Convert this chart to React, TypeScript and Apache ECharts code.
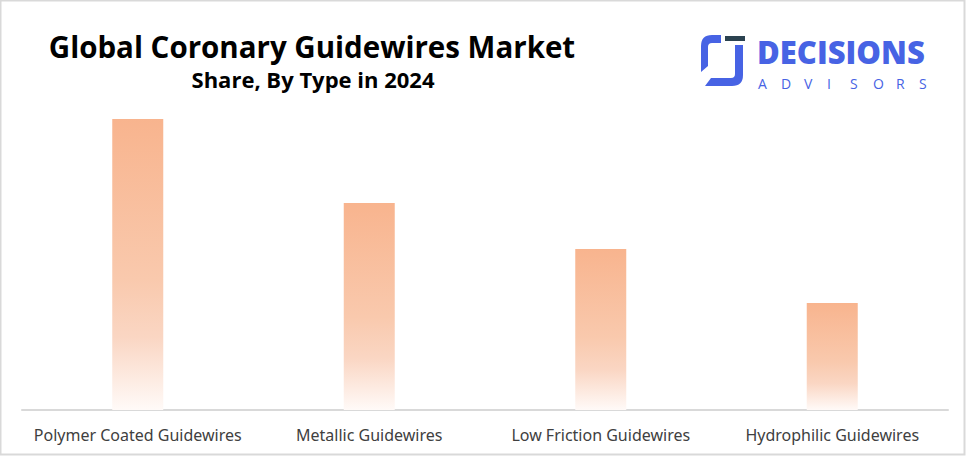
import React, { useEffect, useRef } from "react";
import * as echarts from "echarts";

const categories = [
  "Polymer Coated Guidewires",
  "Metallic Guidewires",
  "Low Friction Guidewires",
  "Hydrophilic Guidewires",
];
const shareValues = [29.1, 20.7, 16.1, 10.7];
const titleText = "Global Coronary Guidewires Market";
const subtitleText = "Share, By Type in 2024";
const brandTop = "DECISIONS";
const brandBottom = "ADVISORS";

echarts.graphic.registerShape(
  "logoLeft",
  echarts.graphic.extendPath(
    "M721 35 L712 35 Q701 35 701 46 L701 72 L708 66 L708 47 Q708 43 712 43 L721 43 Z",
    {}
  )
);
echarts.graphic.registerShape(
  "logoRight",
  echarts.graphic.extendPath(
    "M735 45 L743 45 L743 75 Q743 86 732 86 L705 86 L711 78 L731 78 Q735 78 735 74 Z",
    {}
  )
);

export default function App() {
  const ref = useRef<HTMLDivElement>(null);
  useEffect(() => {
    if (!ref.current) return;
    const chart = echarts.init(ref.current, null, { renderer: "svg" });
    const blue = "#4763E4";
    const advisorLetters = brandBottom.split("").map((ch, i) => ({
      type: "text",
      x: 758 + i * 23,
      y: 83,
      style: {
        text: ch,
        fontFamily: "Open Sans",
        fontSize: 14,
        fill: blue,
        align: "left",
        verticalAlign: "middle",
      },
    }));
    chart.setOption({
      animation: false,
      backgroundColor: "#ffffff",
      grid: { left: 22, right: 18, top: 100, bottom: 46 },
      xAxis: {
        type: "category",
        data: categories,
        axisLine: { lineStyle: { color: "#d9d9d9", width: 2 } },
        axisTick: { show: false },
        axisLabel: {
          interval: 0,
          hideOverlap: false,
          color: "#404040",
          fontFamily: "Noto Sans",
          fontSize: 16,
          margin: 17,
        },
      },
      yAxis: {
        type: "value",
        min: 0,
        max: 31,
        show: false,
        splitLine: { show: false },
      },
      series: [
        {
          type: "bar",
          data: shareValues,
          barWidth: 51,
          itemStyle: {
            color: new echarts.graphic.LinearGradient(0, 0, 0, 1, [
              { offset: 0, color: "#F8B48E" },
              { offset: 0.55, color: "#F9C9AD" },
              { offset: 0.75, color: "#FAD6C3" },
              { offset: 1, color: "#FFFAF8" },
            ]),
          },
        },
      ],
      graphic: [
        {
          type: "rect",
          shape: { x: 0.5, y: 0.5, width: 964, height: 454 },
          style: { fill: "none", stroke: "#d9d9d9", lineWidth: 2 },
          silent: true,
        },
        {
          type: "text",
          x: 312,
          y: 46,
          style: {
            text: titleText,
            fontFamily: "Open Sans",
            fontWeight: "bold",
            fontSize: 29.5,
            fill: "#000000",
            align: "center",
            verticalAlign: "middle",
          },
        },
        {
          type: "text",
          x: 313,
          y: 79,
          style: {
            text: subtitleText,
            fontFamily: "Open Sans",
            fontWeight: "bold",
            fontSize: 22,
            fill: "#000000",
            align: "center",
            verticalAlign: "middle",
          },
        },
        { type: "logoLeft", x: 0, y: 0, style: { fill: blue } },
        { type: "logoRight", x: 0, y: 0, style: { fill: blue } },
        {
          type: "rect",
          shape: { x: 725, y: 36, width: 20, height: 5 },
          style: { fill: "#2b4250" },
        },
        {
          type: "text",
          x: 757,
          y: 52,
          style: {
            text: brandTop,
            fontFamily: "Open Sans",
            fontWeight: 800,
            fontSize: 31,
            fill: blue,
            align: "left",
            verticalAlign: "middle",
          },
        },
        ...advisorLetters,
      ],
    });
    return () => chart.dispose();
  }, []);
  return (
    <div
      ref={ref}
      style={{ position: "fixed", left: 0, top: 0, width: 966, height: 456 }}
    />
  );
}
